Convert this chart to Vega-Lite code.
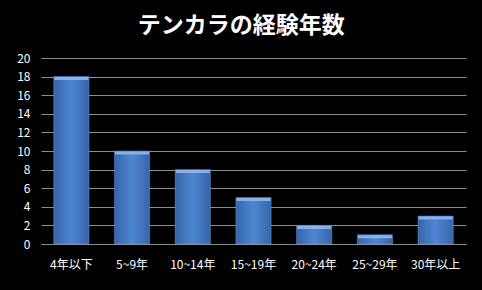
{
  "$schema": "https://vega.github.io/schema/vega-lite/v6.json",
  "width": 425,
  "height": 186,
  "autosize": {"type": "none"},
  "padding": {"left": 41, "top": 58, "right": 16, "bottom": 46},
  "background": "#000000",
  "title": {
    "text": "テンカラの経験年数",
    "font": "Noto Sans CJK JP",
    "fontSize": 23,
    "fontWeight": "bold",
    "color": "#ffffff",
    "anchor": "middle",
    "frame": "bounds",
    "offset": 14
  },
  "data": {
    "values": [
      {"cat": "4年以下", "n": 18},
      {"cat": "5~9年", "n": 10},
      {"cat": "10~14年", "n": 8},
      {"cat": "15~19年", "n": 5},
      {"cat": "20~24年", "n": 2},
      {"cat": "25~29年", "n": 1},
      {"cat": "30年以上", "n": 3}
    ]
  },
  "encoding": {
    "x": {
      "field": "cat",
      "type": "nominal",
      "sort": null,
      "scale": {"paddingInner": 0.42, "paddingOuter": 0.21},
      "axis": {
        "title": null,
        "labelAngle": 0,
        "labelColor": "#ffffff",
        "labelFont": "Noto Sans CJK JP",
        "labelFontSize": 12,
        "labelPadding": 15,
        "ticks": false,
        "domainColor": "#8c8c8c",
        "domainWidth": 1
      }
    },
    "y": {
      "field": "n",
      "type": "quantitative",
      "scale": {"domain": [0, 20]},
      "axis": {
        "title": null,
        "values": [0, 2, 4, 6, 8, 10, 12, 14, 16, 18, 20],
        "labelColor": "#ffffff",
        "labelFont": "Noto Sans CJK JP",
        "labelFontSize": 12,
        "labelPadding": 11,
        "ticks": false,
        "domain": false,
        "gridColor": "#8f8f8f",
        "gridWidth": 1
      }
    }
  },
  "layer": [
    {
      "mark": {
        "type": "bar",
        "color": {
          "gradient": "linear",
          "x1": 0, "y1": 0, "x2": 1, "y2": 0,
          "stops": [
            {"offset": 0, "color": "#3565a8"},
            {"offset": 0.5, "color": "#4f86d2"},
            {"offset": 1, "color": "#3565a8"}
          ]
        },
        "stroke": "#6a9be0",
        "strokeWidth": 0.5
      }
    },
    {
      "mark": {
        "type": "tick",
        "color": "#8fb8ef",
        "thickness": 3,
        "size": 34,
        "yOffset": 2,
        "opacity": 0.9
      }
    }
  ],
  "config": {
    "view": {"stroke": null}
  }
}
